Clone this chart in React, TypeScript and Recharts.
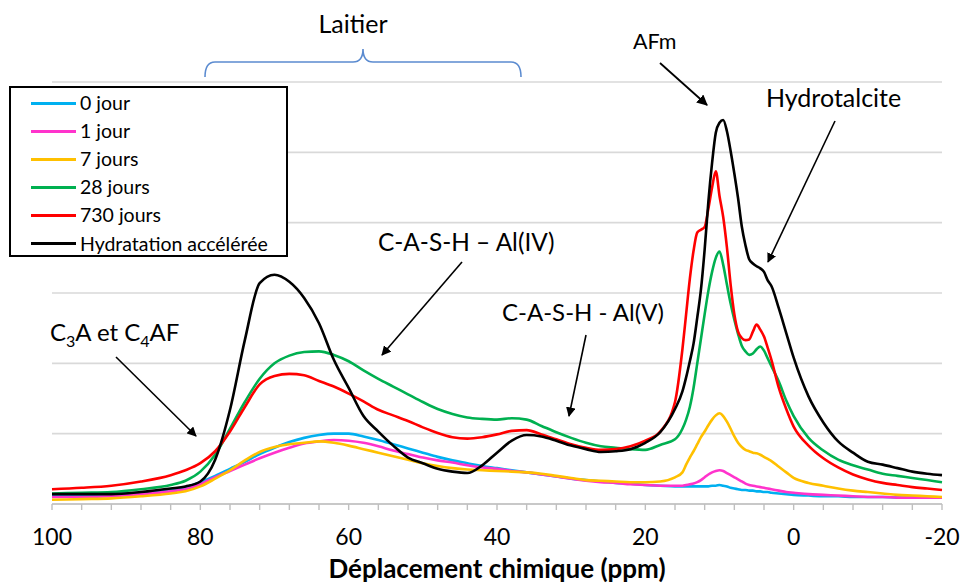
import React from 'react';
import { LineChart, Line, XAxis, YAxis, CartesianGrid, Legend } from 'recharts';

// chemical shift (ppm)
const ppm = [
  100, 96, 92, 88, 84, 82, 80, 78, 76, 74,
  72, 70, 68, 66, 64, 62, 60, 58, 56, 54,
  52, 50, 48, 46, 44, 42, 40, 38, 36, 34,
  32, 30, 28, 26, 24, 22, 20, 18, 16,
  15, 14.5, 14, 13.5, 13, 12.5, 12, 11.5, 11, 10.5, 10, 9.5, 9, 8.5, 8, 7.5, 7, 6.5, 6, 5.5, 5, 4.5, 4, 3.5, 3,
  2, 1, 0,
  -2, -4, -6, -8, -10, -12, -14, -16, -18, -20,
];

const jour0 = [
  0.13, 0.13, 0.14, 0.16, 0.2, 0.24, 0.31, 0.4, 0.5, 0.6,
  0.71, 0.8, 0.88, 0.94, 0.98, 1.0, 1.0, 0.96, 0.91, 0.85,
  0.79, 0.73, 0.67, 0.62, 0.58, 0.54, 0.51, 0.48, 0.45, 0.42,
  0.39, 0.36, 0.34, 0.32, 0.3, 0.29, 0.27, 0.26, 0.25,
  0.25, 0.25, 0.25, 0.25, 0.25, 0.25, 0.25, 0.25, 0.26, 0.26, 0.27, 0.26, 0.25, 0.23, 0.22, 0.21, 0.2, 0.2, 0.19, 0.19, 0.18, 0.18, 0.17, 0.17, 0.16,
  0.15, 0.14, 0.13,
  0.12, 0.11, 0.11, 0.1, 0.1, 0.1, 0.09, 0.09, 0.09, 0.09,
];

const jour1 = [
  0.1, 0.1, 0.11, 0.14, 0.18, 0.21, 0.28, 0.38, 0.47, 0.56,
  0.65, 0.73, 0.8, 0.86, 0.89, 0.91, 0.9, 0.87, 0.82, 0.76,
  0.71, 0.66, 0.62, 0.59, 0.55, 0.52, 0.5, 0.47, 0.45, 0.42,
  0.39, 0.36, 0.33, 0.31, 0.3, 0.28, 0.27, 0.26, 0.26,
  0.26, 0.27, 0.28, 0.29, 0.31, 0.34, 0.38, 0.42, 0.45, 0.47, 0.48, 0.47, 0.44, 0.41, 0.38, 0.35, 0.32, 0.29, 0.27, 0.26, 0.25, 0.24, 0.23, 0.22, 0.21,
  0.19, 0.17, 0.16,
  0.14, 0.13, 0.12, 0.11, 0.1, 0.1, 0.09, 0.09, 0.09, 0.09,
];

const jours7 = [
  0.06, 0.07, 0.08, 0.11, 0.15, 0.18, 0.25, 0.36, 0.48, 0.62,
  0.74, 0.81, 0.85, 0.87, 0.89, 0.87, 0.83, 0.78, 0.73, 0.68,
  0.63, 0.58, 0.54, 0.51, 0.49, 0.48, 0.47, 0.46, 0.45, 0.43,
  0.4, 0.37, 0.34, 0.33, 0.32, 0.31, 0.31, 0.32, 0.38,
  0.45, 0.56, 0.66, 0.75, 0.85, 0.95, 1.03, 1.12, 1.2, 1.26, 1.29, 1.25, 1.17, 1.07, 0.96, 0.87, 0.81, 0.77, 0.75, 0.73, 0.72, 0.7, 0.67, 0.64, 0.61,
  0.53, 0.45, 0.37,
  0.3, 0.26, 0.22, 0.19, 0.17, 0.15, 0.13, 0.12, 0.11, 0.1,
];

const jours28 = [
  0.15, 0.16, 0.17, 0.21, 0.27, 0.33, 0.46, 0.7, 1.07, 1.45,
  1.78, 2.0, 2.11, 2.16, 2.17, 2.12, 2.03, 1.9, 1.78, 1.67,
  1.56, 1.45, 1.35, 1.28, 1.23, 1.21, 1.2, 1.22, 1.2, 1.11,
  1.02, 0.94, 0.87, 0.82, 0.8, 0.78, 0.77, 0.84, 0.92,
  1.07, 1.2, 1.38, 1.65, 2.0, 2.35, 2.7, 3.03, 3.3, 3.5, 3.59, 3.4, 3.12, 2.85, 2.62, 2.42, 2.25, 2.17, 2.12, 2.14, 2.2, 2.24, 2.18, 2.07, 1.96,
  1.74, 1.47, 1.25,
  0.94, 0.76, 0.63, 0.55, 0.49, 0.43, 0.4, 0.37, 0.34, 0.31,
];

const jours730 = [
  0.21, 0.23, 0.26, 0.32, 0.41, 0.48, 0.58, 0.75, 1.03, 1.38,
  1.7, 1.82, 1.85, 1.83, 1.75, 1.67, 1.57, 1.46, 1.34, 1.26,
  1.18, 1.09, 1.01, 0.95, 0.93, 0.95, 0.99, 1.04, 1.05, 0.99,
  0.92, 0.85, 0.8, 0.77, 0.78, 0.82, 0.9, 1.03, 1.45,
  2.2, 2.7, 3.2, 3.6, 3.86, 3.9, 3.94, 4.2, 4.5, 4.73, 4.38, 4.08, 3.65, 3.12, 2.7, 2.45, 2.36, 2.33, 2.34, 2.45, 2.55, 2.48, 2.38, 2.22, 2.05,
  1.65, 1.35, 1.1,
  0.83, 0.65, 0.52, 0.42, 0.35, 0.3, 0.27, 0.24, 0.22, 0.2,
];

const accelere = [
  0.14, 0.14, 0.14, 0.17, 0.22, 0.25, 0.32, 0.63, 1.34, 2.33,
  3.14, 3.26, 3.16, 2.93, 2.57, 2.05, 1.65, 1.25, 1.03, 0.83,
  0.66, 0.58, 0.5, 0.46, 0.44, 0.55, 0.73, 0.9, 0.98, 0.96,
  0.9, 0.83, 0.78, 0.74, 0.75, 0.78, 0.87, 1.02, 1.35,
  1.6, 1.8, 2.03, 2.28, 2.65, 3.05, 3.62, 4.3, 4.85, 5.28, 5.42, 5.46, 5.3, 5.02, 4.7, 4.35, 3.95, 3.68, 3.48, 3.42, 3.38, 3.35, 3.3, 3.18, 3.1,
  2.78, 2.43, 2.08,
  1.53, 1.16, 0.89, 0.73, 0.6, 0.56, 0.51, 0.46, 0.43, 0.41,
];

const xTicks = [100, 96, 92, 88, 84, 80, 76, 72, 68, 64, 60, 56, 52, 48, 44, 40, 36, 32, 28, 24, 20, 16, 12, 8, 4, 0, -4, -8, -12, -16, -20];
const yTicks = [0, 1, 2, 3, 4, 5, 6];

const series = [
  { key: 'j0', name: '0 jour', color: '#00B0F0', values: jour0 },
  { key: 'j1', name: '1 jour', color: '#FF33CC', values: jour1 },
  { key: 'j7', name: '7 jours', color: '#FFC000', values: jours7 },
  { key: 'j28', name: '28 jours', color: '#00B050', values: jours28 },
  { key: 'j730', name: '730 jours', color: '#FF0000', values: jours730 },
  { key: 'acc', name: 'Hydratation accélérée', color: '#000000', values: accelere },
];

const chartData = ppm.map((p, i) => {
  const row: Record<string, number> = { ppm: p };
  series.forEach((s) => {
    row[s.key] = s.values[i];
  });
  return row;
});

const FONT = 'Lato, "Open Sans", sans-serif';

const XTick = (props: any) => {
  const { x, y, payload } = props;
  const v = payload.value;
  if (v % 20 !== 0) return null;
  return (
    <text x={x} y={y} dy={33} textAnchor="middle" fontFamily={FONT} fontSize={23} fill="#000">
      {v}
    </text>
  );
};

// legend keeps the series order (recharts would sort by name otherwise)
const LegendBox = () => (
  <div
    style={{
      width: 279,
      height: 171,
      boxSizing: 'border-box',
      border: '2px solid #000',
      background: '#fff',
      paddingTop: 1,
      fontFamily: FONT,
      fontSize: 19.5,
    }}
  >
    {series.map((s) => (
      <div key={s.key} style={{ display: 'flex', alignItems: 'center', height: 28.1 }}>
        <span style={{ display: 'inline-block', marginLeft: 20, width: 45, height: 3, background: s.color }} />
        <span style={{ marginLeft: 4, lineHeight: '28px', color: '#000', whiteSpace: 'nowrap' }}>{s.name}</span>
      </div>
    ))}
  </div>
);

const Annotations = () => (
  <svg
    width={966}
    height={586}
    style={{ position: 'absolute', left: 0, top: 0, pointerEvents: 'none' }}
    fontFamily={FONT}
  >
    <defs>
      <marker id="arrow" viewBox="0 0 10 10" refX="9" refY="5" markerWidth="6" markerHeight="6" orient="auto-start-reverse">
        <path d="M0,0 L10,5 L0,10 z" fill="#000" />
      </marker>
    </defs>
    <text x={353} y={33} textAnchor="middle" fontSize={25} fill="#000">Laitier</text>
    <path
      d="M205,77 Q205,62 215,62 L353,62 Q363,62 363,49 Q363,62 373,62 L511,62 Q521,62 521,77"
      fill="none"
      stroke="#5B8BD0"
      strokeWidth={1.6}
    />
    <text x={633} y={49} fontSize={21.5} fill="#000">AFm</text>
    <line x1={660} y1={63} x2={707} y2={105} stroke="#000" strokeWidth={1.8} markerEnd="url(#arrow)" />
    <text x={766} y={107} fontSize={25} fill="#000">Hydrotalcite</text>
    <line x1={835} y1={121} x2={768} y2={262} stroke="#000" strokeWidth={1.6} markerEnd="url(#arrow)" />
    <text x={378} y={251} fontSize={24.4} fill="#000">C-A-S-H – Al(IV)</text>
    <line x1={462} y1={262} x2={382} y2={355} stroke="#000" strokeWidth={1.6} markerEnd="url(#arrow)" />
    <text x={502} y={321} fontSize={24} fill="#000">C-A-S-H - Al(V)</text>
    <line x1={586} y1={335} x2={569} y2={416} stroke="#000" strokeWidth={1.6} markerEnd="url(#arrow)" />
    <text x={50} y={341} fontSize={24} fill="#000">
      C<tspan fontSize={16} dy={6}>3</tspan>
      <tspan dy={-6}>A et C</tspan>
      <tspan fontSize={16} dy={6}>4</tspan>
      <tspan dy={-6}>AF</tspan>
    </text>
    <line x1={116} y1={357} x2={196} y2={436} stroke="#000" strokeWidth={1.6} markerEnd="url(#arrow)" />
  </svg>
);

export default function App() {
  return (
    <div style={{ position: 'relative', width: 966, height: 586, background: '#fff' }}>
      <style>{'body{margin:0}'}</style>
      <LineChart width={966} height={586} data={chartData} margin={{ top: 82, right: 24, bottom: 0, left: 52 }}>
        <CartesianGrid vertical={false} stroke="#D9D9D9" strokeWidth={1.6} />
        <XAxis
          dataKey="ppm"
          type="number"
          domain={[-20, 100]}
          reversed
          ticks={xTicks}
          interval={0}
          height={82}
          tick={<XTick />}
          tickSize={6}
          axisLine={{ stroke: '#BFBFBF', strokeWidth: 1.6 }}
          tickLine={{ stroke: '#BFBFBF', strokeWidth: 1.4 }}
          label={{
            value: 'Déplacement chimique (ppm)',
            position: 'insideBottom',
            offset: 8,
            style: { fontFamily: FONT, fontSize: 26, fontWeight: 700, fill: '#000' },
          }}
        />
        <YAxis hide domain={[0, 6]} ticks={yTicks} />
        <Legend
          layout="vertical"
          align="center"
          verticalAlign="middle"
          wrapperStyle={{ left: 9, top: 86, width: 279, height: 171 }}
          content={<LegendBox />}
        />
        {series.map((s) => (
          <Line
            key={s.key}
            type="monotone"
            dataKey={s.key}
            name={s.name}
            stroke={s.color}
            strokeWidth={2.6}
            dot={false}
            activeDot={false}
            isAnimationActive={false}
          />
        ))}
      </LineChart>
      <Annotations />
    </div>
  );
}
